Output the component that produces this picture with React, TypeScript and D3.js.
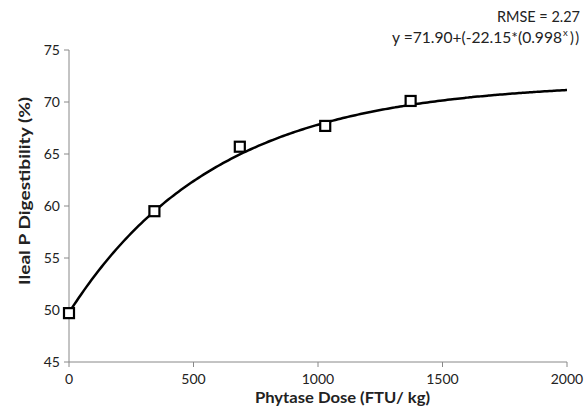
import React from "react";
import * as d3 from "d3";

const doses = [0, 343, 686, 1029, 1372];
const digestibility = [49.7, 59.5, 65.7, 67.7, 70.1];
const xTicks = [0, 500, 1000, 1500, 2000];
const yTicks = [45, 50, 55, 60, 65, 70, 75];
// fitted exponential model y = a + b * r^x
const fitA = 71.9;
const fitB = -22.15;
const fitR = 0.99831;
const curveX = d3.range(0, 2001, 10);

const W = 586;
const H = 409;
const left = 69;
const right = 567;
const top = 50;
const bottom = 362;

export default function App() {
  const x = d3.scaleLinear().domain([0, 2000]).range([left, right]);
  const y = d3.scaleLinear().domain([45, 75]).range([bottom, top]);
  const line = d3
    .line<number>()
    .x((d) => x(d))
    .y((d) => y(fitA + fitB * Math.pow(fitR, d)))
    .curve(d3.curveMonotoneX);
  const font = "Lato, 'Open Sans', sans-serif";
  return (
    <svg
      width={W}
      height={H}
      style={{ position: "absolute", left: 0, top: 0, background: "#fff" }}
      fontFamily={font}
    >
      {/* axes */}
      <line x1={left} x2={left} y1={top} y2={bottom} stroke="#888" strokeWidth={1} />
      <line x1={left} x2={right} y1={bottom} y2={bottom} stroke="#888" strokeWidth={1} />
      {yTicks.map((t) => (
        <g key={"y" + t}>
          <line x1={left - 5} x2={left} y1={y(t)} y2={y(t)} stroke="#888" />
          <text x={left - 9} y={y(t)} dy="0.36em" textAnchor="end" fontSize={14} fill="#222">
            {t}
          </text>
        </g>
      ))}
      {xTicks.map((t) => (
        <g key={"x" + t}>
          <line x1={x(t)} x2={x(t)} y1={bottom} y2={bottom + 5} stroke="#888" />
          <text x={x(t)} y={bottom + 22} textAnchor="middle" fontSize={14} fill="#222">
            {t}
          </text>
        </g>
      ))}
      <text
        x={255}
        y={403}
        fontSize={15}
        fontWeight="bold"
        fill="#222"
        textLength={175}
        lengthAdjust="spacingAndGlyphs"
      >
        Phytase Dose (FTU/ kg)
      </text>
      <text
        transform={`translate(30,285) rotate(-90)`}
        fontSize={15.5}
        fontWeight="bold"
        fill="#222"
        textLength={188}
        lengthAdjust="spacingAndGlyphs"
      >
        Ileal P Digestibility (%)
      </text>
      {/* fitted curve */}
      <path d={line(curveX) || ""} fill="none" stroke="#000" strokeWidth={2.5} />
      {/* points */}
      {doses.map((d, i) => (
        <rect
          key={i}
          x={x(d) - 5}
          y={y(digestibility[i]) - 5}
          width={10}
          height={10}
          fill="#fff"
          stroke="#000"
          strokeWidth={2.2}
        />
      ))}
      {/* annotation */}
      <text
        x={497}
        y={22}
        fontSize={14.5}
        fill="#222"
        textLength={83}
        lengthAdjust="spacingAndGlyphs"
      >
        RMSE = 2.27
      </text>
      <text
        x={392}
        y={43}
        fontSize={14.5}
        fill="#222"
        textLength={170}
        lengthAdjust="spacingAndGlyphs"
      >
        y =71.90+(-22.15*(0.998
      </text>
      <text x={563} y={36} fontSize={9.5} fill="#222">
        x
      </text>
      <text x={570} y={43} fontSize={14.5} fill="#222" letterSpacing={1.5}>
        ))
      </text>
    </svg>
  );
}
